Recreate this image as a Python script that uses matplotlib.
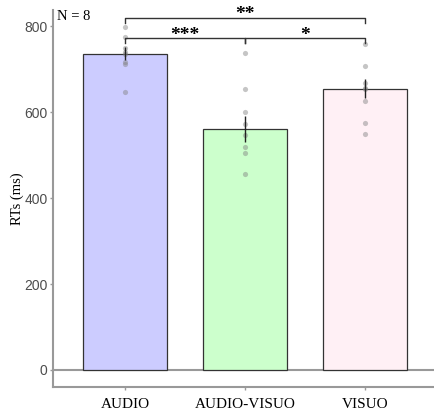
import matplotlib.pyplot as plt
import numpy as np

# conditions and values
conditions = ['AUDIO', 'AUDIO-VISUO', 'VISUO']
mean_rt = [736, 560, 655]
se_rt = [15, 30, 23]
colors = ['#CCCCFF', '#CCFFCC', '#FFF0F5']

# single-subject points (N = 8)
subj_audio = [798, 775, 750, 740, 735, 716, 712, 646]
subj_av = [738, 653, 601, 572, 547, 519, 504, 456]
subj_visuo = [758, 707, 667, 657, 653, 626, 574, 548]
subjects = [subj_audio, subj_av, subj_visuo]

# significance brackets: (from, to, label)
comparisons = [(0, 2, '**'), (0, 1, '***'), (1, 2, '*')]
bracket_y = [819, 772, 772]

fig = plt.figure(figsize=(4.34, 4.11), dpi=100)
ax = fig.add_axes([0.122, 0.058, 0.878, 0.918])

x = np.arange(1, len(conditions) + 1)
ax.bar(x, mean_rt, width=0.7, color=colors, edgecolor='#333333', linewidth=0.9, zorder=2)
ax.errorbar(x, mean_rt, yerr=se_rt, fmt='none', ecolor='#222222', elinewidth=1, capsize=0, zorder=4)

for xi, vals in zip(x, subjects):
    ax.scatter([xi] * len(vals), vals, s=14, color='#808080', alpha=0.45, linewidths=0, zorder=3)

ax.axhline(0, color='#999999', linewidth=1.5, zorder=1)

tick = 12
for (i, j, lab), yb in zip(comparisons, bracket_y):
    xa, xb = x[i], x[j]
    ax.plot([xa, xa, xb, xb], [yb - tick, yb, yb, yb - tick], color='#333333', linewidth=1, zorder=5)
    ax.text((xa + xb) / 2, yb - 3, lab, ha='center', va='baseline', fontsize=14,
            fontfamily='Liberation Serif', fontweight='bold', color='black')

ax.text(0.43, 823, 'N = 8', ha='left', va='center', fontsize=10.5, fontfamily='Liberation Serif')

ax.set_xlim(0.4, 3.575)
ax.set_ylim(-40, 838)
ax.set_yticks([0, 200, 400, 600, 800])
ax.set_xticks(x)
ax.set_xticklabels(conditions, fontfamily='Liberation Serif', fontsize=11, color='black')
for lbl in ax.get_yticklabels():
    lbl.set_fontfamily('Liberation Sans')
    lbl.set_fontsize(10)
    lbl.set_color('#4d4d4d')
ax.set_ylabel('RTs (ms)', fontfamily='Liberation Serif', fontsize=10.5, labelpad=0)

for side in ['top', 'right']:
    ax.spines[side].set_visible(False)
for side in ['left', 'bottom']:
    ax.spines[side].set_color('#999999')
    ax.spines[side].set_linewidth(1.5)
ax.tick_params(colors='#999999', length=2.5, width=1)
ax.tick_params(axis='x', labelcolor='black', pad=5)
ax.tick_params(axis='y', labelcolor='#4d4d4d', pad=1.5)

fig.savefig('out.png', dpi=100)
